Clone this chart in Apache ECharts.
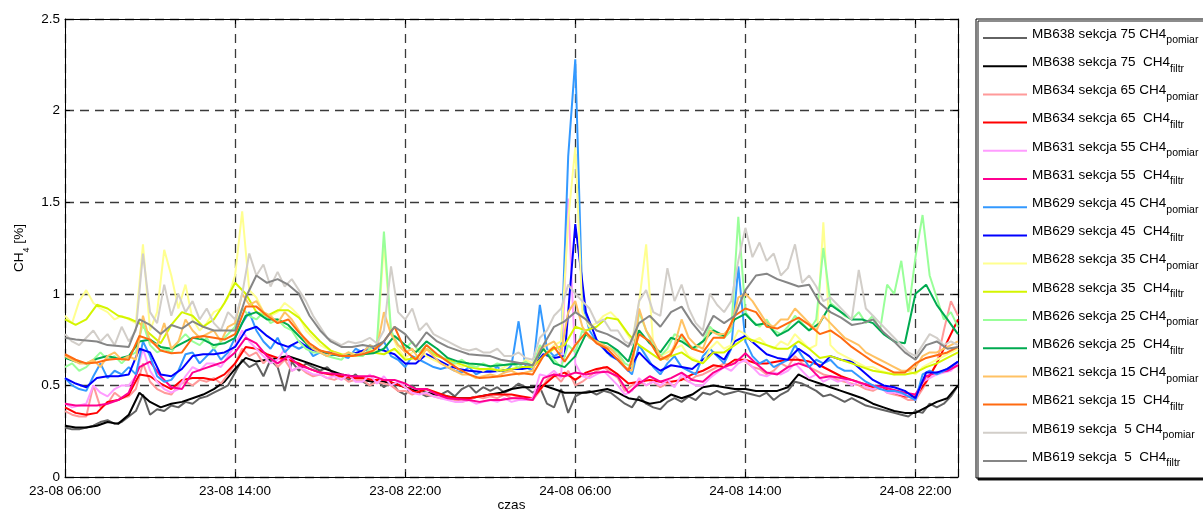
<!DOCTYPE html>
<html>
<head>
<meta charset="utf-8">
<script src="https://cdn.jsdelivr.net/npm/echarts@6/dist/echarts.min.js"></script>
<style>
  html, body { margin: 0; padding: 0; background: #ffffff; }
  #chart { width: 1203px; height: 512px; }
</style>
</head>
<body>
<div id="chart"></div>
<script>
// Hours counted from 23-08 06:00; axis runs to 25-08 00:00 (42 h).
const tickLabels = ['23-08 06:00', '23-08 14:00', '23-08 22:00', '24-08 06:00', '24-08 14:00', '24-08 22:00'];
const yTicks = [0, 0.5, 1, 1.5, 2, 2.5];

// Raw readings ("pomiar") every 20 min, filtered values ("filtr") every 30 min.
const POMIAR_STEP_H = 1 / 3;
const FILTR_STEP_H = 0.5;

const mb638Pomiar = [
  .27,.26,.26, .27,.28,.30, .31,.29,.30, .33,.36,.45, .34,.37,.36, .39,.38,.41, .40,.43,.44, .46,.48,.50, .57,.64,.60, .62,.55,.64,
  .60,.47,.63, .58,.62,.60, .58,.60,.56, .55,.53,.56, .52,.50,.53, .49,.52,.47, .45,.50,.46, .44,.45,.45, .47,.44,.48, .50,.46,.49,
  .47,.49,.46, .48,.51,.49, .46,.49,.40, .38,.48,.35, .44,.46,.47, .45,.47,.46, .43,.40,.38, .44,.40,.38, .37,.41,.43, .41,.44,.42,
  .46,.45,.47, .45,.46,.47, .46,.45,.44, .46,.42,.45, .47,.52,.51, .49,.47,.44, .45,.43,.41, .43,.41,.39, .38,.37,.36, .35,.34,.33,
  .36,.35,.40, .38,.40,.44, .50
];
const mb638Filtr = [
  .28,.27,.27,.28,.30,.29,.34,.46,.41,.38, .40,.41,.43,.45,.48,.52,.59,.65,.63,.64,
  .65,.66,.64,.62,.60,.58,.56,.55,.53,.52, .52,.51,.49,.47,.46,.45,.44,.43,.43,.44,
  .45,.46,.48,.49,.49,.50,.48,.46,.46,.46, .47,.48,.46,.43,.42,.40,.41,.45,.43,.45,
  .49,.50,.49,.48,.48,.47,.47,.47,.49,.56, .53,.51,.49,.47,.45,.43,.40,.38,.36,.35,
  .35,.38,.41,.43,.50
];
const mb634Pomiar = [
  .36,.34,.33, .33,.50,.38, .40,.46,.43, .44,.48,.62, .52,.48,.46, .45,.50,.52, .50,.53,.52, .54,.51,.56, .62,.70,.66, .68,.62,.66,
  .60,.64,.58, .60,.57,.55, .56,.54,.53, .55,.52,.53, .53,.50,.52, .51,.50,.47, .47,.45,.47, .45,.44,.43, .43,.42,.41, .42,.44,.43,
  .44,.43,.45, .43,.44,.42, .42,.47,.53, .56,.52,.58, .50,.52,.55, .58,.60,.57, .54,.47,.50, .52,.50,.52, .49,.51,.50, .54,.52,.55,
  .56,.58,.60, .62,.61,.64, .63,.60,.59, .56,.58,.62, .60,.66,.62, .60,.58,.56, .55,.53,.52, .51,.50,.48, .47,.49,.46, .45,.44,.42,
  .42,.48,.55, .62,.80,.96, .88
];
const mb634Filtr = [
  .38,.35,.34,.35,.41,.42,.45,.56,.55,.51, .48,.53,.54,.54,.53,.56,.62,.71,.70,.67,
  .65,.64,.62,.59,.57,.56,.55,.54,.54,.53, .53,.51,.49,.46,.48,.46,.44,.43,.43,.44,
  .45,.45,.45,.44,.43,.50,.55,.57,.53,.57, .59,.60,.56,.51,.52,.53,.52,.52,.53,.56,
  .58,.61,.60,.64,.64,.62,.62,.63,.64,.64, .63,.61,.58,.55,.53,.51,.49,.48,.46,.44,
  .44,.52,.62,.74,.86
];
const mb631Pomiar = [
  .40,.38,.39, .40,.50,.46, .44,.48,.50, .50,.55,.70, .58,.52,.48, .46,.48,.55, .60,.58,.62, .62,.60,.66, .72,.80,.74, .70,.66,.62,
  .64,.70,.58, .60,.58,.56, .56,.54,.55, .53,.56,.52, .52,.56,.51, .55,.50,.52, .49,.46,.45, .46,.44,.43, .42,.41,.41, .42,.40,.41,
  .42,.41,.43, .41,.42,.42, .43,.56,.55, .58,.54,1.52, .62,.55,.54, .56,.58,.54, .50,.45,.47, .54,.50,.52, .50,.53,.49, .56,.52,.50,
  .50,.54,.57, .60,.58,.62, .64,.60,.56, .55,.57,.56, .58,.62,.58, .54,.56,.52, .54,.52,.53, .50,.52,.49, .48,.49,.46, .46,.45,.44,
  .42,.52,.54, .56,.57,.58, .62
];
const mb631Filtr = [
  .40,.39,.39,.39,.40,.42,.46,.60,.63,.55, .49,.48,.57,.59,.61,.63,.68,.76,.73,.66,
  .62,.66,.61,.59,.57,.565,.56,.55,.55,.55, .53,.53,.51,.48,.48,.45,.43,.425,.42,.41,
  .42,.42,.43,.43,.42,.54,.56,.55,.57,.56, .57,.575,.55,.46,.51,.55,.52,.54,.57,.53,
  .52,.57,.60,.62,.675,.62,.57,.56,.60,.62, .60,.54,.55,.54,.53,.51,.50,.49,.475,.46,
  .45,.55,.57,.58,.61
];
const mb629Pomiar = [
  .54,.50,.48, .47,.55,.62, .54,.58,.56, .60,.56,.74, .66,.55,.52, .53,.58,.67, .68,.62,.66, .70,.64,.68, .76,.84,.90, .80,.74,.70,
  .76,.68,.72, .70,.72,.66, .68,.66,.67, .66,.65,.70, .68,.72,.70, .74,.66,.64, .60,.66,.64, .62,.60,.59, .60,.58,.57, .60,.56,.58,
  .58,.60,.57, .61,.85,.60, .58,.94,.70, .66,.68,1.75, 2.28,.95,.80, .74,.70,.66, .64,.60,.56, .72,.66,.60, .56,.62,.66, .60,.58,.56,
  .66,.70,.66, .62,.70,1.15, .74,.66,.62, .64,.60,.62, .64,.72,.66, .60,.64,.62, .64,.60,.58, .58,.55,.52, .50,.48,.47, .47,.46,.44,
  .42,.56,.58, .56,.58,.60, .63
];
const mb629Filtr = [
  .54,.51,.49,.54,.55,.55,.56,.70,.68,.56, .55,.59,.66,.67,.67,.68,.71,.80,.82,.77,
  .73,.71,.74,.70,.68,.68,.665,.67,.69,.70, .69,.67,.62,.62,.67,.64,.61,.59,.58,.575,
  .575,.58,.59,.59,.60,.67,.65,.66,1.38,.90, .75,.68,.64,.58,.68,.62,.58,.61,.60,.59,
  .64,.68,.64,.74,.77,.72,.67,.65,.64,.70, .66,.60,.66,.64,.63,.58,.53,.50,.49,.47,
  .43,.57,.57,.59,.63
];
const mb628Pomiar = [
  .88,.84,.96, 1.02,.95,.92, .90,.86,.88, .86,.84,1.27, .80,.90,1.24, 1.10,.92,1.05, .86,.80,.84, .90,.92,.98, 1.10,1.45,1.02, .98,.90,.88,
  .90,.95,.92, .88,.80,.76, .72,.70,.68, .66,.68,.67, .66,.70,.68, 1.28,.78,.70, .65,.68,.70, .66,.64,.62, .60,.62,.60, .62,.60,.58,
  .60,.58,.60, .62,.60,.64, .62,.70,.68, .72,.74,1.40, 1.80,.90,.82, .84,.88,.90, .86,.80,.74, .95,1.27,.72, .66,.68,.70, .72,.66,.64,
  .62,.70,.74, .70,.72,.80, .78,.74,.76, .72,.70,.74, .72,.78,.74, .70,.72,1.39, .72,.68,.66, .64,.62,.60, .60,.58,.57, .56,.57,.58,
  .56,.60,.62, .64,.66,.68, .70
];
const mb628Filtr = [
  .86,.83,.86,.94,.92,.88,.865,.84,.78,.73, .83,.90,.88,.82,.86,.95,1.06,1.00,.90,.88,
  .91,.91,.87,.80,.74,.69,.67,.66,.67,.68, .67,.70,.64,.65,.70,.66,.64,.62,.60,.59,
  .59,.58,.59,.60,.60,.66,.70,.72,.82,.80, .82,.87,.86,.78,.72,.68,.64,.66,.68,.64,
  .62,.68,.68,.72,.76,.74,.72,.70,.70,.74, .70,.65,.66,.64,.62,.60,.58,.57,.56,.56,
  .57,.60,.62,.65,.68
];
const mb626Pomiar = [
  .60,.62,.58, .60,.64,.68, .64,.66,.62, .66,.68,.84, .72,.68,.70, .68,.74,.78, .74,.72,.76, .70,.74,.78, .82,.92,.88, .86,.90,.84,
  .86,.82,.80, .74,.70,.68, .68,.66,.65, .64,.68,.66, .66,.70,.72, 1.34,.80,.72, .70,.74,.68, .72,.68,.66, .63,.62,.64, .61,.60,.62,
  .60,.62,.61, .62,.60,.63, .60,.72,.68, .64,.60,.72, .68,.80,.76, .74,.72,.70, .68,.62,.60, .90,.80,.72, .66,.70,.78, .76,.72,.70,
  .74,.82,.78, .76,.80,1.42, .90,.85,.82, .86,.80,.78, .82,.88,.84, .80,.86,1.25, .95,.92,.88, .86,.90,.84, .88,.80,1.05, 1.00,1.18,.90,
  1.20,1.43,1.10, .98,.86,.90, .82
];
const mb626Filtr = [
  .65,.63,.62,.645,.66,.645,.66,.74,.75,.71, .70,.73,.76,.75,.72,.73,.76,.88,.90,.86,
  .86,.83,.77,.71,.69,.67,.66,.665,.67,.675, .70,.77,.72,.68,.74,.70,.65,.63,.62,.615,
  .605,.61,.615,.62,.61,.70,.62,.60,.66,.78, .74,.73,.69,.63,.80,.73,.68,.76,.74,.70,
  .74,.80,.77,.86,.89,.83,.84,.77,.80,.85, .80,.84,.94,.90,.86,.86,.84,.78,.74,.73,
  1.00,1.05,.94,.86,.78
];
const mb621Pomiar = [
  .66,.64,.62, .62,.64,.60, .66,.68,.64, .66,.64,.88, .74,.72,.84, .70,.74,.86, .80,.76,.78, .80,.74,.82, .84,1.00,.94, .96,.90,.88,
  .84,.90,.86, .80,.74,.70, .68,.66,.68, .66,.68,.66, .68,.72,.70, .90,.78,.72, .68,.70,.64, .70,.66,.62, .60,.58,.56, .56,.54,.55,
  .56,.55,.57, .58,.56,.57, .58,.70,.72, .74,.68,.90, .96,.82,.76, .74,.72,.70, .66,.60,.58, .92,.80,.74, .66,.64,.72, .86,.76,.72,
  .70,.80,.78, .78,.82,.98, 1.00,.96,.90, .84,.82,.86, .86,.92,.88, .84,.80,.88, .84,.80,.76, .74,.72,.68, .66,.64,.62, .60,.58,.58,
  .60,.66,.68, .68,.70,.72, .74
];
const mb621Filtr = [
  .67,.64,.62,.625,.64,.645,.64,.77,.75,.69, .675,.68,.76,.77,.76,.75,.78,.93,.93,.88,
  .84,.86,.79,.73,.69,.675,.66,.66,.67,.69, .74,.82,.69,.64,.72,.67,.63,.59,.56,.54,
  .545,.55,.56,.566,.56,.66,.71,.63,.72,.79, .73,.70,.64,.58,.78,.74,.64,.67,.78,.70,
  .68,.76,.76,.88,.92,.90,.82,.81,.84,.87, .83,.78,.80,.76,.71,.67,.63,.60,.57,.57,
  .62,.65,.665,.68,.71
];
const mb619Pomiar = [
  .78,.74,.72, .76,.80,.74, .78,.72,.82, .74,.80,1.22, .90,.84,1.05, .88,1.00,.90, .96,.86,.92, .84,.80,.90, .86,1.00,1.22, 1.10,1.16,1.04,
  1.12,1.04,1.08, 1.02,.96,.88, .82,.76,.74, .72,.74,.73, .74,.76,.73, .80,1.15,.90, .86,.92,.80, .84,.78,.76, .74,.72,.70, .69,.70,.68,
  .68,.70,.66, .66,.68,.65, .64,.76,.80, .88,.92,1.05, 1.00,.96,.92, .84,.86,.80, .80,.74,.72, .96,1.02,.90, .88,1.14,.96, 1.05,.92,.84,
  .80,1.00,.94, .90,.96,1.18, 1.36,1.20,1.28, 1.18,1.22,1.10, 1.14,1.27,1.06, 1.10,1.04,.96, .98,.94,.90, .86,1.13,.92, .88,.84,.80, .76,.72,.68,
  .66,.72,.78, .76,.72,.74, .72
];
const mb619Filtr = [
  .76,.75,.745,.74,.72,.715,.71,.86,.83,.78, .83,.81,.85,.82,.80,.80,.80,.98,1.10,1.06,
  1.08,1.05,1.00,.88,.80,.74,.71,.71,.72,.71, .74,.82,.78,.71,.79,.74,.71,.69,.67,.665,
  .66,.64,.63,.62,.61,.72,.82,.85,.90,.86, .80,.78,.75,.71,.84,.88,.82,.90,.93,.84,
  .77,.88,.84,.88,1.02,1.10,1.11,1.08,1.06,1.04, 1.05,.95,.90,.87,.83,.84,.86,.79,.74,.68,
  .64,.72,.74,.70,.71
];

// Plot order: first entry is drawn first (bottom), last on top.
const seriesDefs = [
  { label: 'MB638 sekcja 75 CH4',  sub: 'pomiar', values: mb638Pomiar, step: POMIAR_STEP_H, color: '#626262' },
  { label: 'MB638 sekcja 75  CH4', sub: 'filtr',  values: mb638Filtr,  step: FILTR_STEP_H,  color: '#000000' },
  { label: 'MB634 sekcja 65 CH4',  sub: 'pomiar', values: mb634Pomiar, step: POMIAR_STEP_H, color: '#ff9a9a' },
  { label: 'MB634 sekcja 65  CH4', sub: 'filtr',  values: mb634Filtr,  step: FILTR_STEP_H,  color: '#ff0000' },
  { label: 'MB631 sekcja 55 CH4',  sub: 'pomiar', values: mb631Pomiar, step: POMIAR_STEP_H, color: '#ff9cff' },
  { label: 'MB631 sekcja 55  CH4', sub: 'filtr',  values: mb631Filtr,  step: FILTR_STEP_H,  color: '#ff0090' },
  { label: 'MB629 sekcja 45 CH4',  sub: 'pomiar', values: mb629Pomiar, step: POMIAR_STEP_H, color: '#3399ff' },
  { label: 'MB629 sekcja 45  CH4', sub: 'filtr',  values: mb629Filtr,  step: FILTR_STEP_H,  color: '#0000ff' },
  { label: 'MB628 sekcja 35 CH4',  sub: 'pomiar', values: mb628Pomiar, step: POMIAR_STEP_H, color: '#ffff90' },
  { label: 'MB628 sekcja 35  CH4', sub: 'filtr',  values: mb628Filtr,  step: FILTR_STEP_H,  color: '#d4f500' },
  { label: 'MB626 sekcja 25 CH4',  sub: 'pomiar', values: mb626Pomiar, step: POMIAR_STEP_H, color: '#99ff99' },
  { label: 'MB626 sekcja 25  CH4', sub: 'filtr',  values: mb626Filtr,  step: FILTR_STEP_H,  color: '#00aa50' },
  { label: 'MB621 sekcja 15 CH4',  sub: 'pomiar', values: mb621Pomiar, step: POMIAR_STEP_H, color: '#ffc264' },
  { label: 'MB621 sekcja 15  CH4', sub: 'filtr',  values: mb621Filtr,  step: FILTR_STEP_H,  color: '#ff6a10' },
  { label: 'MB619 sekcja  5 CH4',  sub: 'pomiar', values: mb619Pomiar, step: POMIAR_STEP_H, color: '#d2cec9' },
  { label: 'MB619 sekcja  5  CH4', sub: 'filtr',  values: mb619Filtr,  step: FILTR_STEP_H,  color: '#868686' }
];

const FONT = '"Liberation Sans", Arial, Helvetica, sans-serif';
const gridDash = { color: '#3a3a3a', width: 1.3, type: [9, 6] };

const seriesList = seriesDefs.map(d => ({
  type: 'line',
  name: d.label + '|' + d.sub,
  data: d.values.map((v, i) => [i * d.step, v]),
  symbol: 'none',
  showSymbol: false,
  lineStyle: { width: 2, color: d.color },
  itemStyle: { color: d.color },
  emphasis: { disabled: true },
  animation: false,
  xAxisIndex: 0,
  yAxisIndex: 0
}));

const chart = echarts.init(document.getElementById('chart'), null, { renderer: 'canvas' });
chart.setOption({
  animation: false,
  backgroundColor: '#ffffff',
  textStyle: { fontFamily: FONT },
  grid: { left: 65, top: 19, width: 893, height: 458, containLabel: false, outerBoundsMode: 'none' },
  xAxis: [
    {
      type: 'value', min: 0, max: 42, interval: 8,
      axisLine: { show: true, onZero: false, lineStyle: { color: '#000', width: 1 } },
      axisTick: { show: true, inside: true, length: 5, lineStyle: { color: '#000' } },
      axisLabel: {
        color: '#000', fontSize: 13.5, fontFamily: FONT, margin: 7,
        formatter: v => (v % 8 === 0 && tickLabels[v / 8] !== undefined) ? tickLabels[v / 8] : ''
      },
      splitLine: { show: true, lineStyle: gridDash },
      name: 'czas', nameLocation: 'middle', nameGap: 21, nameMoveOverlap: false,
      nameTextStyle: { color: '#000', fontSize: 13.5, fontFamily: FONT }
    },
    {
      type: 'value', position: 'top', min: 0, max: 42, interval: 8,
      axisLine: { show: true, onZero: false, lineStyle: { color: '#000', width: 1 } },
      axisTick: { show: true, inside: true, length: 5, lineStyle: { color: '#000' } },
      axisLabel: { show: false }, splitLine: { show: false }
    }
  ],
  yAxis: [
    {
      type: 'value', min: yTicks[0], max: yTicks[yTicks.length - 1], interval: 0.5,
      axisLine: { show: true, onZero: false, lineStyle: { color: '#000', width: 1 } },
      axisTick: { show: true, inside: true, length: 5, lineStyle: { color: '#000' } },
      axisLabel: { color: '#000', fontSize: 13.5, fontFamily: FONT, margin: 5 },
      splitLine: { show: true, lineStyle: gridDash },
      name: '{m|CH}{s|4}{m| [%]}', nameLocation: 'middle', nameRotate: 90, nameGap: 38, nameMoveOverlap: false,
      nameTextStyle: {
        color: '#000',
        rich: {
          m: { fontSize: 13.5, fontFamily: FONT, color: '#000', lineHeight: 16 },
          s: { fontSize: 9, fontFamily: FONT, color: '#000', lineHeight: 10, verticalAlign: 'bottom', padding: [0, 0, -4, 0] }
        }
      }
    },
    {
      type: 'value', position: 'right', min: 0, max: 2.5, interval: 0.5,
      axisLine: { show: true, onZero: false, lineStyle: { color: '#000', width: 1 } },
      axisTick: { show: true, inside: true, length: 5, lineStyle: { color: '#000' } },
      axisLabel: { show: false }, splitLine: { show: false }
    }
  ],
  legend: {
    orient: 'vertical', left: 976, top: 19,
    itemWidth: 44, itemHeight: 14, itemGap: 6.2,
    padding: [8, 60, 6, 6],
    backgroundColor: '#ffffff', borderColor: '#000000', borderWidth: 1,
    shadowColor: 'rgba(0,0,0,0.9)', shadowBlur: 0, shadowOffsetX: 2, shadowOffsetY: 2,
    selectedMode: false,
    itemStyle: { opacity: 0 },
    data: seriesList.map(s => s.name),
    formatter: name => {
      const [main, sub] = name.split('|');
      return '{m|' + main + '}{s|' + sub + '}';
    },
    textStyle: {
      color: '#000',
      rich: {
        m: { fontSize: 13.5, fontFamily: FONT, color: '#000', lineHeight: 16, padding: [0, 0, 8, 0] },
        s: { fontSize: 10.5, fontFamily: FONT, color: '#000', lineHeight: 10, padding: [0, 0, 0, 0], verticalAlign: 'bottom' }
      }
    }
  },
  series: seriesList
});
</script>
</body>
</html>
